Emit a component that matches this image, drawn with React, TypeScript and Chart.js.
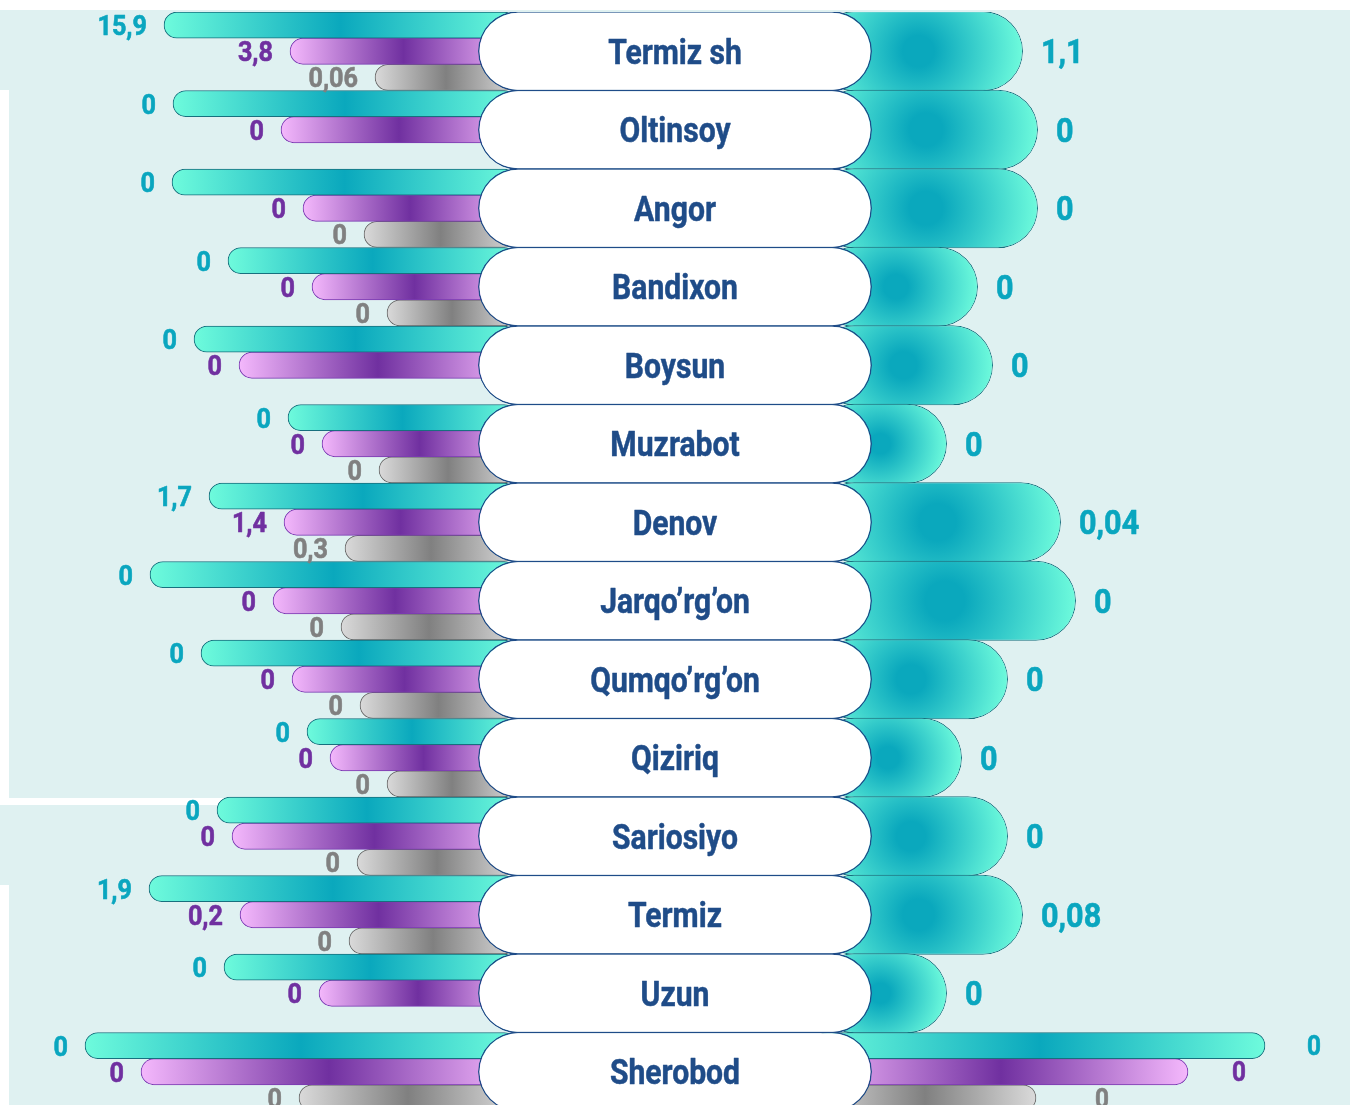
import React, { useEffect, useRef } from 'react';
import { Chart, registerables } from 'chart.js';

Chart.register(...registerables);

// ---------- data ----------
const districts = [
  'Termiz sh', 'Oltinsoy', 'Angor', 'Bandixon', 'Boysun', 'Muzrabot', 'Denov',
  'Jarqo’rg’on', 'Qumqo’rg’on', 'Qiziriq', 'Sariosiyo', 'Termiz', 'Uzun', 'Sherobod',
];

// values shown as labels
const cyanValues: (number | null)[] = [15.9, 0, 0, 0, 0, 0, 1.7, 0, 0, 0, 0, 1.9, 0, 0];
const purpleValues: (number | null)[] = [3.8, 0, 0, 0, 0, 0, 1.4, 0, 0, 0, 0, 0.2, 0, 0];
const grayValues: (number | null)[] = [0.06, null, 0, 0, null, 0, 0.3, 0, 0, 0, 0, 0, null, 0];
const rightValues: (number | null)[] = [1.1, 0, 0, 0, 0, 0, 0.04, 0, 0, 0, 0, 0.08, 0, null];
const sherobodRightValues = { cyan: 0, purple: 0, gray: 0 };

// decorative bar reach (axis units, centre of the chart = 0)
const leftCyanReach: (number | null)[] = [-511, -502, -503, -447, -481, -387, -466, -525, -474, -368, -458, -526, -451, -590];
const leftPurpleReach: (number | null)[] = [-385, -394, -372, -363, -436, -353, -391, -402, -383, -345, -443, -435, -356, -534];
const leftGrayReach: (number | null)[] = [-300, null, -311, -288, null, -296, -330, -334, -315, -288, -318, -326, null, -376];
const rightReach: (number | null)[] = [348, 363, 363, 303, 318, 272, 386, 401, 333, 287, 333, 348, 272, null];
const sherobodRightReach = { cyan: 590, purple: 513, gray: 361 };

// ---------- style constants ----------
const L_BASE = -158;
const R_BASE = 139;
const PILL_HALF = 197;
const SX_NAME = 0.86; // condensed text
const SX_VAL = 0.9;
const FONT = 'Roboto';

const CYAN = ['#6EFBDC', '#0AA8BD'];
const PURPLE = ['#F4B8FC', '#7030A0'];
const GRAY = ['#DADADA', '#808080'];
const CYAN_TXT = '#0AA6BF';
const PURPLE_TXT = '#7030A0';
const GRAY_TXT = '#808080';
const NAVY = '#1F4C88';
const BG = '#DFF1F1';

const fmt = (v: number) => String(v).replace('.', ',');

function linGrad(colors: string[]) {
  return (ctx: any) => {
    if (ctx.type !== 'data' || !Array.isArray(ctx.raw)) return colors[1];
    const chart = ctx.chart;
    const xs = chart.scales && chart.scales.x;
    if (!xs) return colors[1];
    const pa = xs.getPixelForValue(ctx.raw[0]);
    const pb = xs.getPixelForValue(ctx.raw[1]);
    if (!isFinite(pa) || !isFinite(pb) || pa === pb) return colors[1];
    const g = chart.ctx.createLinearGradient(Math.min(pa, pb), 0, Math.max(pa, pb), 0);
    g.addColorStop(0, colors[0]);
    g.addColorStop(0.5, colors[1]);
    g.addColorStop(1, colors[0]);
    return g;
  };
}

function radGrad(colors: string[]) {
  return (ctx: any) => {
    if (ctx.type !== 'data' || !Array.isArray(ctx.raw)) return colors[1];
    const chart = ctx.chart;
    const xs = chart.scales && chart.scales.x;
    const ys = chart.scales && chart.scales.y;
    if (!xs || !ys) return colors[1];
    const pa = xs.getPixelForValue(ctx.raw[0]);
    const pb = xs.getPixelForValue(ctx.raw[1]);
    const cy = ys.getPixelForValue(ctx.dataIndex);
    if (!isFinite(pa) || !isFinite(pb) || !isFinite(cy) || pa === pb) return colors[1];
    const cx = (pa + pb) / 2;
    const r = Math.abs(pb - pa) / 2;
    const g = chart.ctx.createRadialGradient(cx, cy, 0, cx, cy, r);
    g.addColorStop(0, colors[1]);
    g.addColorStop(0.15, colors[1]);
    g.addColorStop(1, colors[0]);
    return g;
  };
}

const onlyLast = (v: number) => districts.map((_, i) => (i === districts.length - 1 ? [R_BASE, v] : null));

function drawText(ctx: CanvasRenderingContext2D, text: string, x: number, y: number, size: number, color: string, align: CanvasTextAlign, sx: number, stroke = 0) {
  ctx.save();
  ctx.font = `bold ${size}px ${FONT}`;
  ctx.fillStyle = color;
  ctx.strokeStyle = color;
  ctx.textAlign = align;
  ctx.textBaseline = 'alphabetic';
  ctx.translate(x, y + size * 0.355);
  ctx.scale(sx, 1);
  ctx.fillText(text, 0, 0);
  if (stroke > 0) {
    ctx.lineWidth = stroke;
    ctx.lineJoin = 'round';
    ctx.strokeText(text, 0, 0);
  }
  ctx.restore();
}

const backgroundPlugin = {
  id: 'bgPanels',
  beforeDraw(chart: any) {
    const c = chart.ctx as CanvasRenderingContext2D;
    c.save();
    c.fillStyle = '#FFFFFF';
    c.fillRect(0, 0, chart.width, chart.height);
    c.fillStyle = BG;
    c.fillRect(9, 10, 1341, chart.height);
    c.fillRect(0, 10, 9, 80);
    c.fillStyle = '#FFFFFF';
    c.fillRect(0, 798, 512, 7);
    c.fillStyle = BG;
    c.fillRect(0, 805, 512, 80);
    c.restore();
  },
};

const labelPlugin = {
  id: 'valueLabels',
  afterDatasetsDraw(chart: any) {
    const c = chart.ctx as CanvasRenderingContext2D;
    const leftSets: [number, (number | null)[], string][] = [
      [0, cyanValues, CYAN_TXT],
      [1, purpleValues, PURPLE_TXT],
      [2, grayValues, GRAY_TXT],
    ];
    leftSets.forEach(([di, vals, color]) => {
      const meta = chart.getDatasetMeta(di);
      meta.data.forEach((el: any, i: number) => {
        const v = vals[i];
        if (v == null || el == null || chart.data.datasets[di].data[i] == null) return;
        const left = Math.min(el.x, el.base);
        drawText(c, fmt(v), left - 17, el.y, 28, color, 'right', SX_VAL, 0.6);
      });
    });
    // right main labels
    const rm = chart.getDatasetMeta(6);
    rm.data.forEach((el: any, i: number) => {
      const v = rightValues[i];
      if (v == null || chart.data.datasets[6].data[i] == null) return;
      const right = Math.max(el.x, el.base);
      drawText(c, fmt(v), right + 18, el.y, 34, CYAN_TXT, 'left', SX_VAL, 0.6);
    });
    // Sherobod right labels
    const sr: [number, number, string, number][] = [
      [3, sherobodRightValues.cyan, CYAN_TXT, 42],
      [4, sherobodRightValues.purple, PURPLE_TXT, 44],
      [5, sherobodRightValues.gray, GRAY_TXT, 59],
    ];
    sr.forEach(([di, v, color, gap]) => {
      const meta = chart.getDatasetMeta(di);
      const i = districts.length - 1;
      const el = meta.data[i];
      if (!el) return;
      const right = Math.max(el.x, el.base);
      drawText(c, fmt(v), right + gap, el.y, 27, color, 'left', SX_VAL, 0.6);
    });
    // pill names
    const pm = chart.getDatasetMeta(7);
    pm.data.forEach((el: any, i: number) => {
      const cx = (el.x + el.base) / 2;
      drawText(c, districts[i], cx, el.y, 35, NAVY, 'center', SX_NAME, 0.5);
    });
  },
};

const barCommon = {
  borderWidth: 1,
  borderRadius: 60,
  borderSkipped: false as const,
  categoryPercentage: 1,
  barPercentage: 1,
  order: 1,
};

export default function App() {
  const ref = useRef<HTMLCanvasElement>(null);
  useEffect(() => {
    if (!ref.current) return;
    const chart = new Chart(ref.current, {
      type: 'bar',
      data: {
        labels: districts,
        datasets: [
          {
            ...barCommon,
            label: 'cyanLeft',
            stack: 'c',
            data: leftCyanReach.map((v) => (v == null ? null : [v, L_BASE])) as any,
            backgroundColor: linGrad(CYAN) as any,
            borderColor: '#17707E',
          },
          {
            ...barCommon,
            label: 'purpleLeft',
            stack: 'p',
            data: leftPurpleReach.map((v) => (v == null ? null : [v, L_BASE])) as any,
            backgroundColor: linGrad(PURPLE) as any,
            borderColor: '#7A3AB2',
          },
          {
            ...barCommon,
            label: 'grayLeft',
            stack: 'g',
            data: leftGrayReach.map((v) => (v == null ? null : [v, L_BASE])) as any,
            backgroundColor: linGrad(GRAY) as any,
            borderColor: '#6A6A6A',
          },
          {
            ...barCommon,
            label: 'cyanRight',
            stack: 'c',
            data: onlyLast(sherobodRightReach.cyan) as any,
            backgroundColor: linGrad(CYAN) as any,
            borderColor: '#17707E',
          },
          {
            ...barCommon,
            label: 'purpleRight',
            stack: 'p',
            data: onlyLast(sherobodRightReach.purple) as any,
            backgroundColor: linGrad(PURPLE) as any,
            borderColor: '#7A3AB2',
          },
          {
            ...barCommon,
            label: 'grayRight',
            stack: 'g',
            data: onlyLast(sherobodRightReach.gray) as any,
            backgroundColor: linGrad(GRAY) as any,
            borderColor: '#6A6A6A',
          },
          {
            ...barCommon,
            label: 'rightMain',
            grouped: false,
            barPercentage: 1.02,
            data: rightReach.map((v) => (v == null ? null : [R_BASE, v])) as any,
            backgroundColor: radGrad(CYAN) as any,
            borderColor: '#17707E',
          },
          {
            ...barCommon,
            label: 'pill',
            grouped: false,
            order: 0,
            barPercentage: 1.02,
            borderWidth: 1.5,
            data: districts.map(() => [-PILL_HALF, PILL_HALF]) as any,
            backgroundColor: '#FFFFFF',
            borderColor: NAVY,
          },
        ] as any,
      },
      options: {
        indexAxis: 'y',
        responsive: false,
        maintainAspectRatio: false,
        animation: false,
        devicePixelRatio: 1,
        layout: { padding: { top: 12, bottom: 0, left: 0, right: 0 } },
        scales: {
          x: { type: 'linear', min: -675, max: 675, display: false, stacked: false },
          y: { type: 'category', display: false, offset: true },
        },
        plugins: {
          legend: { display: false },
          tooltip: { enabled: false },
        },
        events: [],
      } as any,
      plugins: [backgroundPlugin, labelPlugin],
    });
    return () => chart.destroy();
  }, []);
  return (
    <div style={{ position: 'fixed', left: 0, top: 0, width: 1350, height: 1105, overflow: 'hidden', background: '#fff' }}>
      <canvas ref={ref} width={1350} height={1111} style={{ display: 'block' }} />
    </div>
  );
}
